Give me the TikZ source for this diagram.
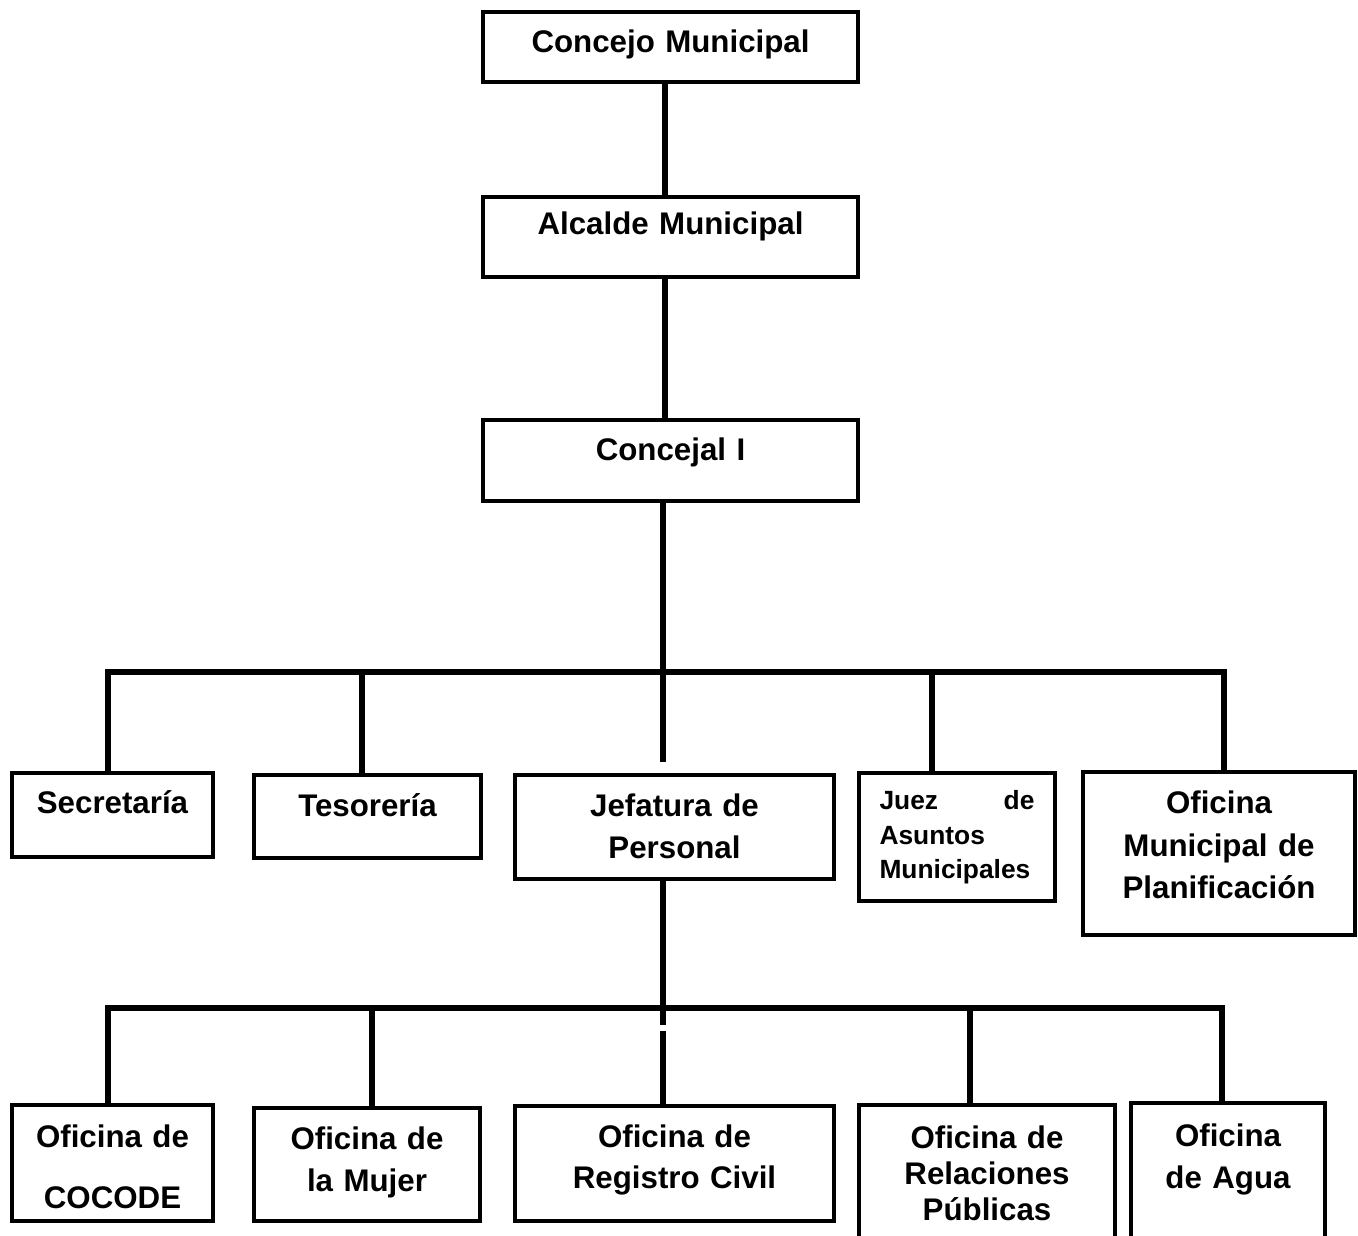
\documentclass[tikz,border=0pt]{standalone}
\usepackage{fontspec}
\setmainfont{Liberation Sans}

\begin{document}
\begin{tikzpicture}[x=0.02cm,y=-0.02cm,
		box/.style={draw,line width=0.09cm,inner sep=0pt,outer sep=0pt,anchor=north,align=center,
			font=\fontsize{17.8}{23.8}\selectfont\bfseries},
		link/.style={line width=0.12cm}]
		\useasboundingbox (0,0) rectangle (1358,1236);

		% Organigrama municipal
		\node[box,text width=7.5cm,text height=0.82cm,text depth=0.58cm] (Concejo) at (670.5,12) {Concejo Municipal};
		\node[box,text width=7.5cm,text height=0.76cm,text depth=0.84cm] (Alcalde) at (670.5,197) {Alcalde Municipal};
		\node[box,text width=7.5cm,text height=0.82cm,text depth=0.80cm] (Concejal) at (670.5,420) {Concejal I};

		% segundo nivel
		\node[box,text width=4.02cm,text height=0.82cm,text depth=0.86cm] (Secretaria) at (112.5,773) {Secretaría};
		\node[box,text width=4.54cm,text height=0.84cm,text depth=0.82cm] (Tesoreria) at (367.5,775) {Tesorería};
		\node[box,text width=6.38cm,text height=0.84cm,text depth=1.24cm] (Jefatura) at (674.5,775) {Jefatura de\\Personal};
		\node[box,align=left,text width=3.1cm,inner xsep=0.41cm,text height=0.74cm,text depth=1.82cm,
			font=\fontsize{15}{19.6}\selectfont\bfseries] (Juez) at (957,773) {Juez\hfill de\\Asuntos\\Municipales};
		\node[box,text width=5.44cm,text height=0.84cm,text depth=2.42cm,
			font=\fontsize{17.8}{24.1}\selectfont\bfseries] (Planificacion) at (1219,772) {Oficina\\Municipal de\\Planificación};

		% tercer nivel
		\node[box,text width=4.02cm,text height=0.84cm,text depth=1.48cm,
			font=\fontsize{17.8}{35}\selectfont\bfseries] (Cocode) at (112.5,1105) {Oficina de\\COCODE};
		\node[box,text width=4.52cm,text height=0.82cm,text depth=1.44cm,
			font=\fontsize{17.8}{24.4}\selectfont\bfseries] (Mujer) at (367,1108) {Oficina de\\la Mujer};
		\node[box,text width=6.38cm,text height=0.82cm,text depth=1.48cm] (Registro) at (674.5,1106) {Oficina de\\Registro Civil};
		\node[box,text width=5.12cm,text height=0.86cm,text depth=2.04cm,
			font=\fontsize{17.8}{20.7}\selectfont\bfseries] (Relaciones) at (987,1105) {Oficina de\\Relaciones\\Públicas};
		\node[box,text width=3.88cm,text height=0.86cm,text depth=2.10cm,
			font=\fontsize{17.8}{24.4}\selectfont\bfseries] (Agua) at (1228,1103) {Oficina\\de Agua};

		% lineas
		\coordinate (Spine) at (665,0);
		\draw[link] (Concejo.south -| Spine) -- (Alcalde.north -| Spine);
		\draw[link] (Alcalde.south -| Spine) -- (Concejal.north -| Spine);
		\coordinate (MidA) at (663,762);
		\draw[link] (Concejal.south -| MidA) -- (MidA);
		\coordinate (BarAL) at (105,672);
		\coordinate (BarAR) at (1227,672);
		\draw[link] (BarAL) -- (BarAR);
		\foreach \n/\x in {Secretaria/108,Tesoreria/362,Juez/932,Planificacion/1224}{
			\coordinate (top) at (\x,672);
			\draw[link] (top) -- (top |- \n.north);
		}

		\coordinate (GapTop) at (663,1025);
		\coordinate (GapBot) at (663,1031);
		\draw[link] (Jefatura.south -| GapTop) -- (GapTop);
		\draw[link] (GapBot) -- (GapBot |- Registro.north);
		\coordinate (BarBL) at (105,1008);
		\coordinate (BarBR) at (1225,1008);
		\draw[link] (BarBL) -- (BarBR);
		\foreach \n/\x in {Cocode/108,Mujer/372,Relaciones/970,Agua/1222}{
			\coordinate (top) at (\x,1008);
			\draw[link] (top) -- (top |- \n.north);
		}
		
		\end{tikzpicture}
\end{document}
